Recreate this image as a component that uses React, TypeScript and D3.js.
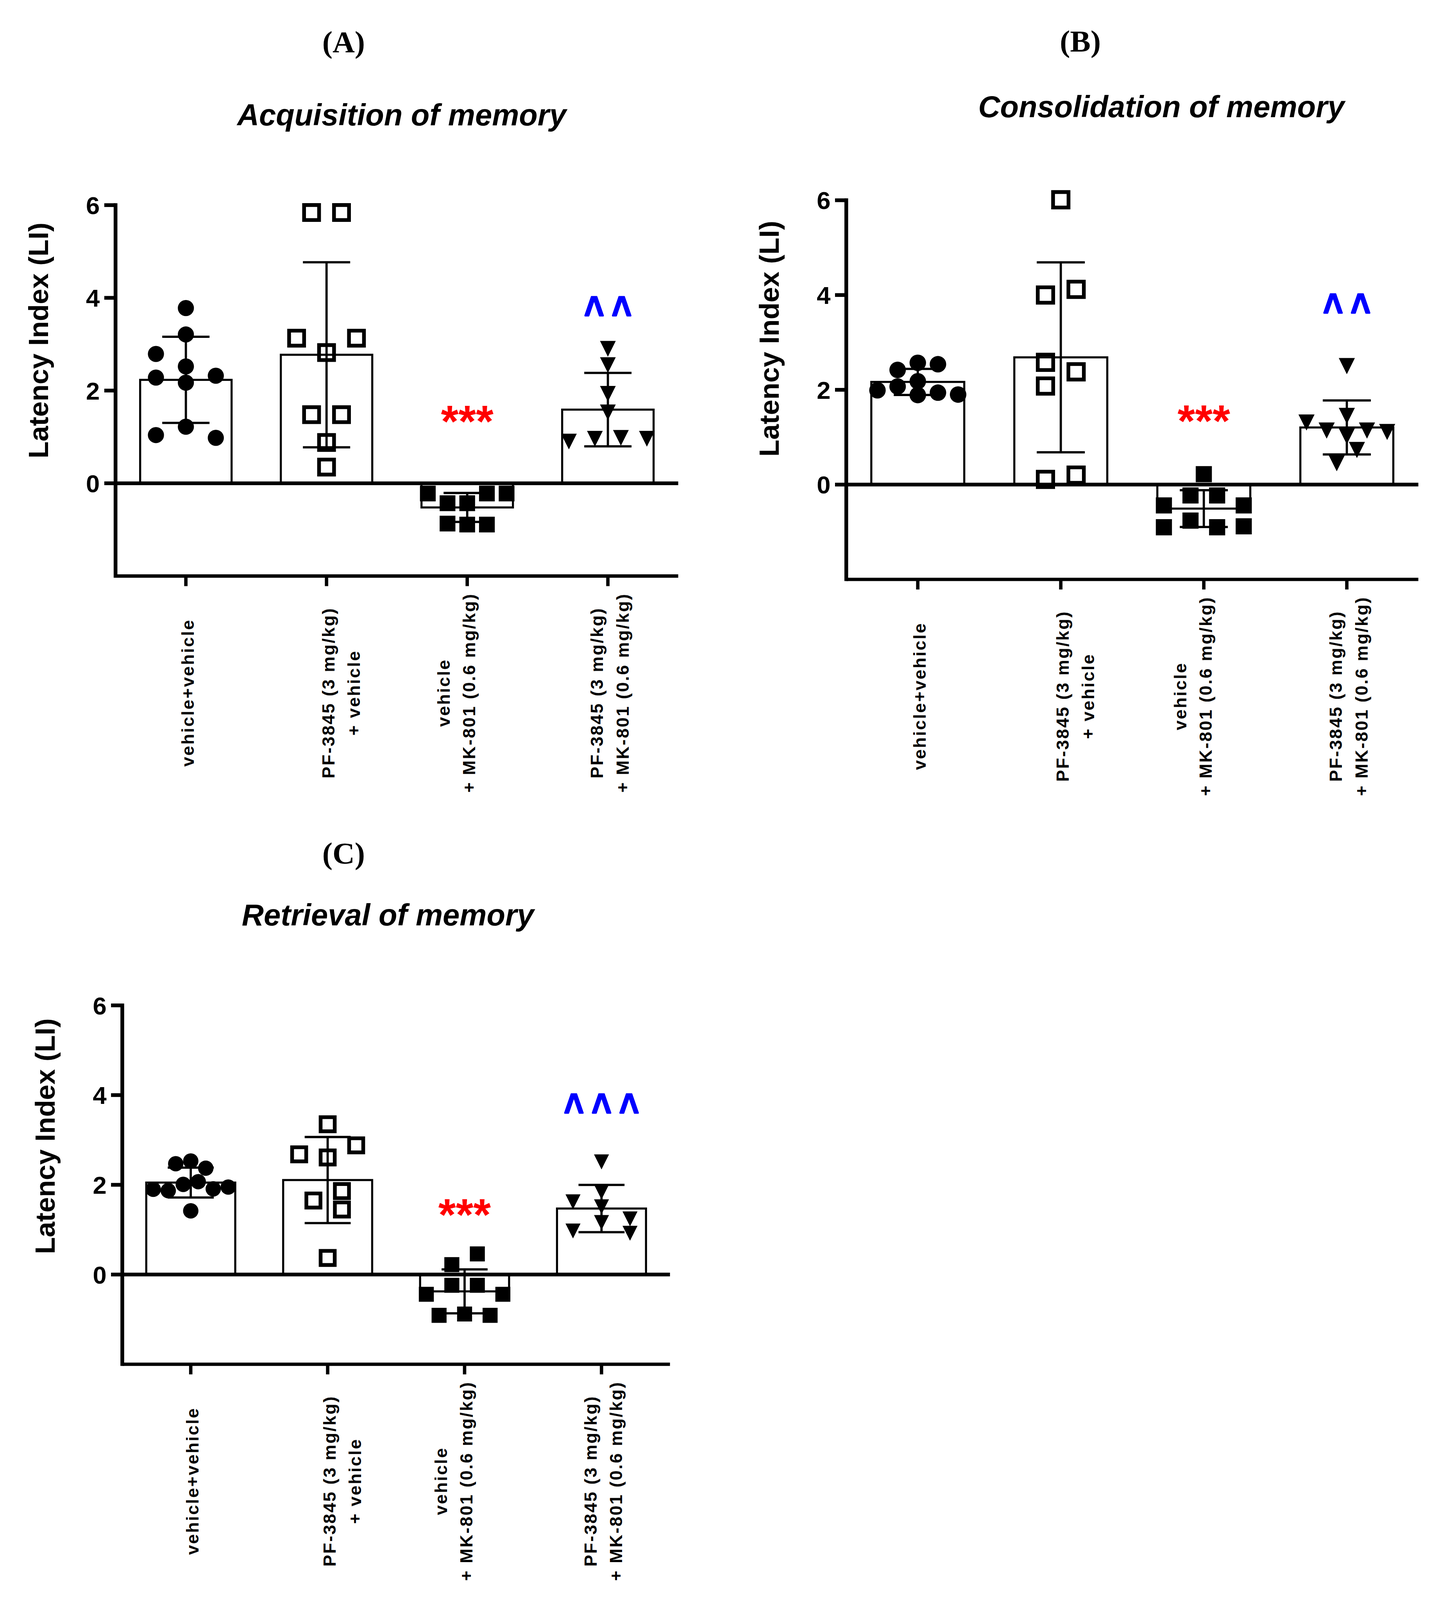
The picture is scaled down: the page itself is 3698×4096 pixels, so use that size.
import React from 'react';
import * as d3 from 'd3';

// output is drawn in reference pixels and scaled down to the window
const S = 0.96;
const WIDTH = 3698;
const HEIGHT = 4096;

const SANS = 'Liberation Sans, Arial, Helvetica, sans-serif';
const SERIF = 'Liberation Serif, Times New Roman, serif';

const groups = ['vehVeh', 'pfVeh', 'vehMk', 'pfMk'];
const groupLabelLines = [
  ['vehicle+vehicle'],
  ['', 'PF-3845 (3 mg/kg)', '+ vehicle'],
  ['vehicle', '+ MK-801 (0.6 mg/kg)', ''],
  ['PF-3845 (3 mg/kg)', '+ MK-801 (0.6 mg/kg)'],
];
const shapes = ['circle', 'openSquare', 'square', 'triangle'];
const yTicks = [0, 2, 4, 6];
const yDomain = [-2, 6];

// (A) acquisition of memory
const acqVehVeh = [3.78, 3.21, 2.52, 2.17, 2.28, 2.32, 2.79, 1.22, 0.98, 1.04];
const acqPfVeh = [5.84, 5.84, 2.82, 3.13, 3.13, 1.48, 1.48, 0.88, 0.35];
const acqVehMk = [-0.43, -0.43, -0.22, -0.22, -0.22, -0.89, -0.87, -0.89];
const acqPfMk = [2.9, 2.55, 1.93, 1.53, 0.98, 0.96, 0.96, 0.9];

// (B) consolidation of memory
const conVehVeh = [2.57, 2.42, 2.54, 2.18, 2.07, 1.94, 1.99, 1.9, 1.89];
const conPfVeh = [6.01, 4.12, 4.0, 2.58, 2.38, 2.08, 0.2, 0.11];
const conVehMk = [0.22, -0.23, -0.23, -0.44, -0.44, -0.76, -0.9, -0.9, -0.88];
const conPfMk = [2.5, 1.02, 1.14, 1.14, 1.45, 1.31, 1.11, 0.73, 0.45];

// (C) retrieval of memory
const retVehVeh = [2.53, 2.47, 2.37, 1.42, 2.07, 2.01, 1.91, 1.87, 1.95, 1.9];
const retPfVeh = [3.35, 2.61, 2.68, 2.88, 1.45, 1.86, 1.65, 0.37];
const retVehMk = [0.46, 0.22, -0.24, -0.24, -0.44, -0.44, -0.88, -0.91, -0.91];
const retPfMk = [2.51, 1.84, 1.62, 1.51, 1.24, 1.16, 0.97, 0.92];

// significance marks (vs vehicle+vehicle in red, vs vehicle+MK-801 in blue)
const starMarks = ['', '', '***', ''];
const caretMarksA = ['', '', '', '^^'];
const caretMarksB = ['', '', '', '^^'];
const caretMarksC = ['', '', '', '^^^'];
const starLevel = 1.55;
const caretLevel = 3.87;

const panels = [
  {
    id: 'A', letter: '(A)', title: 'Acquisition of memory',
    values: [acqVehVeh, acqPfVeh, acqVehMk, acqPfMk], carets: caretMarksA,
    x0: 308, x1: 1808, yTop: 547, yBot: 1536, marker: 42,
    titleX: 1071, titleY: 334, letterX: 916, letterY: 140,
  },
  {
    id: 'B', letter: '(B)', title: 'Consolidation of memory',
    values: [conVehVeh, conPfVeh, conVehMk, conPfMk], carets: caretMarksB,
    x0: 2256, x1: 3781, yTop: 534, yBot: 1545, marker: 43,
    titleX: 3096, titleY: 313, letterX: 2880, letterY: 138,
  },
  {
    id: 'C', letter: '(C)', title: 'Retrieval of memory',
    values: [retVehVeh, retPfVeh, retVehMk, retPfMk], carets: caretMarksC,
    x0: 326, x1: 1786, yTop: 2681, yBot: 3638, marker: 40,
    titleX: 1034, titleY: 2468, letterX: 916, letterY: 2303,
  },
];

type Pt = { v: number; dx: number; y: number };

// greedy scatter layout: each point takes the nearest free column slot
function greedy(values: number[], y: (v: number) => number, step: number, dxMin: number, dyMin: number): Pt[] {
  const placed: Pt[] = [];
  values.forEach((v) => {
    const py = y(v);
    const free = (x: number) =>
      placed.every((p) => Math.abs(p.dx - x) >= dxMin - 0.01 || Math.abs(p.y - py) >= dyMin);
    let x = 0;
    if (!free(0)) {
      for (let k = 1; k < 30; k++) {
        const left = placed.filter((p) => p.dx < 0).length;
        const right = placed.filter((p) => p.dx > 0).length;
        const order = right < left ? [k, -k] : [-k, k];
        const hit = order.map((s) => s * step).find(free);
        if (hit !== undefined) { x = hit; break; }
      }
    }
    placed.push({ v, dx: x, y: py });
  });
  return placed;
}

// re-centre each cluster of touching points when that causes no new overlap
function centre(pts: Pt[], step: number, dxMin: number, dyMin: number) {
  const parent = pts.map((_, i) => i);
  const find = (i: number): number => (parent[i] === i ? i : (parent[i] = find(parent[i])));
  for (let i = 0; i < pts.length; i++) {
    for (let j = i + 1; j < pts.length; j++) {
      if (Math.abs(pts[i].y - pts[j].y) < dyMin && Math.abs(pts[i].dx - pts[j].dx) <= step * 1.01) {
        parent[find(i)] = find(j);
      }
    }
  }
  const clusters = d3.group(pts.map((_, i) => i), (i) => find(i));
  clusters.forEach((idx) => {
    const lo = d3.min(idx, (i) => pts[i].dx) as number;
    const hi = d3.max(idx, (i) => pts[i].dx) as number;
    const shift = -(lo + hi) / 2;
    if (Math.abs(shift) < 0.01) return;
    const inside = new Set(idx);
    const clash = idx.some((i) =>
      pts.some((q, k) => !inside.has(k)
        && Math.abs(q.dx - (pts[i].dx + shift)) < dxMin - 0.01 && Math.abs(q.y - pts[i].y) < dyMin));
    if (!clash) idx.forEach((i) => { pts[i].dx += shift; });
  });
  return pts;
}

// tightest spacing that still keeps the points inside the bar
function swarm(values: number[], y: (v: number) => number, m: number, outer: number, halfBar: number) {
  let pts: Pt[] = [];
  for (let f = 1.9; f >= 0.849; f -= 0.05) {
    const step = m * f;
    pts = centre(greedy(values, y, step, outer, outer * 0.85), step, outer, outer * 0.85);
    const span = (d3.max(pts, (p) => Math.abs(p.dx)) as number) + outer / 2;
    if (span <= halfBar + 6) break;
  }
  return pts;
}

function Marker({ shape, x, y, m }: { shape: string; x: number; y: number; m: number }) {
  const t = `translate(${x},${y})`;
  if (shape === 'circle') {
    return <path transform={t} d={d3.symbol(d3.symbolCircle, Math.PI * (m / 2 + 0.5) ** 2)() || ''} fill="#000" />;
  }
  if (shape === 'openSquare') {
    const sw = 10;
    const side = m * 1.19 - sw;
    return <path transform={t} d={d3.symbol(d3.symbolSquare, side * side)() || ''} fill="none" stroke="#000" strokeWidth={sw} />;
  }
  if (shape === 'square') {
    return <path transform={t} d={d3.symbol(d3.symbolSquare, m * m)() || ''} fill="#000" />;
  }
  const h = m / 2;
  const tri = d3.path();
  tri.moveTo(-h, -h);
  tri.lineTo(h, -h);
  tri.lineTo(0, h);
  tri.closePath();
  return <path transform={t} d={tri.toString()} fill="#000" />;
}

function Panel({ p }: { p: typeof panels[number] }) {
  const y = d3.scaleLinear().domain(yDomain).range([p.yBot, p.yTop]);
  const x = d3.scaleBand().domain(groups).range([p.x0, p.x1]).padding(0);
  const bw = x.bandwidth();
  const barW = bw * 0.65;
  const capW = bw * 0.336;
  const y0 = y(0);
  const axisW = 10;

  const labelFs = 47;
  const lineH = 68;
  const caretFs = 90;
  const caretSpacing = 21;
  const caretScale = 1.27;

  return (
    <g>
      <text x={p.letterX} y={p.letterY} textAnchor="middle" fontFamily={SERIF} fontWeight="bold" fontSize={82}>
        {p.letter}
      </text>
      <text x={p.titleX} y={p.titleY} textAnchor="middle" fontFamily={SANS} fontWeight="bold" fontStyle="italic" fontSize={81}>
        {p.title}
      </text>
      <text
        transform={`translate(${p.x0 - 180},${y(3) - 10}) rotate(-90)`}
        textAnchor="middle" fontFamily={SANS} fontWeight="bold" fontSize={74}
      >
        Latency Index (LI)
      </text>

      {/* bars */}
      {groups.map((g, i) => {
        const mean = d3.mean(p.values[i]) as number;
        const cx = (x(g) as number) + bw / 2;
        return (
          <rect key={g} x={cx - barW / 2} y={Math.min(y(mean), y0)} width={barW}
            height={Math.abs(y(mean) - y0)} fill="#fff" stroke="#000" strokeWidth={5.5} />
        );
      })}

      {/* axes */}
      <line x1={p.x0} x2={p.x1} y1={y0} y2={y0} stroke="#000" strokeWidth={axisW} />
      <line x1={p.x0} x2={p.x1} y1={p.yBot} y2={p.yBot} stroke="#000" strokeWidth={9} />
      <line x1={p.x0} x2={p.x0} y1={p.yTop - 5} y2={p.yBot + 4.5} stroke="#000" strokeWidth={axisW} />
      {yTicks.map((t) => (
        <g key={t}>
          <line x1={p.x0 - 30} x2={p.x0} y1={y(t)} y2={y(t)} stroke="#000" strokeWidth={axisW} />
          <text x={p.x0 - 42} y={y(t)} dy="0.36em" textAnchor="end" fontFamily={SANS} fontWeight="bold" fontSize={66}>
            {t}
          </text>
        </g>
      ))}
      {groups.map((g, i) => {
        const cx = (x(g) as number) + bw / 2;
        const lines = groupLabelLines[i];
        const n = lines.length;
        return (
          <g key={g}>
            <line x1={cx} x2={cx} y1={p.yBot} y2={p.yBot + 27} stroke="#000" strokeWidth={9} />
            <text transform={`translate(${cx},${p.yBot + 313}) rotate(-90)`} textAnchor="middle"
              fontFamily={SANS} fontWeight="bold" fontSize={labelFs} letterSpacing={3.2}>
              {lines.map((l, j) => (
                <tspan key={j} x={1.6} y={(j - (n - 1) / 2) * lineH + 0.45 * labelFs}>{l}</tspan>
              ))}
            </text>
          </g>
        );
      })}

      {/* error bars (mean ± SD) */}
      {groups.map((g, i) => {
        const vals = p.values[i];
        const mean = d3.mean(vals) as number;
        const sd = d3.deviation(vals) as number;
        const cx = (x(g) as number) + bw / 2;
        return (
          <g key={g} stroke="#000" strokeWidth={6}>
            <line x1={cx} x2={cx} y1={y(mean + sd)} y2={y(mean - sd)} />
            <line x1={cx - capW / 2} x2={cx + capW / 2} y1={y(mean + sd)} y2={y(mean + sd)} />
            <line x1={cx - capW / 2} x2={cx + capW / 2} y1={y(mean - sd)} y2={y(mean - sd)} />
          </g>
        );
      })}

      {/* individual points */}
      {groups.map((g, i) => {
        const cx = (x(g) as number) + bw / 2;
        const outer = shapes[i] === 'openSquare' ? p.marker * 1.19 : p.marker;
        const pts = swarm(p.values[i], y, p.marker, outer, barW / 2);
        return (
          <g key={g}>
            {pts.map((pt, j) => (
              <Marker key={j} shape={shapes[i]} x={cx + pt.dx} y={pt.y} m={p.marker} />
            ))}
          </g>
        );
      })}

      {/* significance marks */}
      {groups.map((g, i) => {
        const cx = (x(g) as number) + bw / 2;
        return (
          <g key={g}>
            {starMarks[i] && (
              <text x={cx} y={y(starLevel) + 0.56 * 120} textAnchor="middle" fontFamily={SANS}
                fontWeight="bold" fontSize={120} fill="#ff0000">{starMarks[i]}</text>
            )}
            {p.carets[i] && (
              <g transform={`translate(${cx + caretSpacing / 2},${y(caretLevel)}) scale(1,${caretScale})`}>
                <text y={0.53 * caretFs} textAnchor="middle" fontFamily={SANS} fontWeight="bold"
                  fontSize={caretFs} letterSpacing={caretSpacing} fill="#0000ff"
                  stroke="#0000ff" strokeWidth={3.5} strokeLinejoin="round">{p.carets[i]}</text>
              </g>
            )}
          </g>
        );
      })}
    </g>
  );
}

export default function App() {
  return (
    <svg width={WIDTH} height={HEIGHT} style={{ position: 'absolute', left: 0, top: 0, display: 'block' }}>
      <rect width={WIDTH} height={HEIGHT} fill="#fff" />
      <g transform={`scale(${S})`}>
        {panels.map((p) => <Panel key={p.id} p={p} />)}
      </g>
    </svg>
  );
}
